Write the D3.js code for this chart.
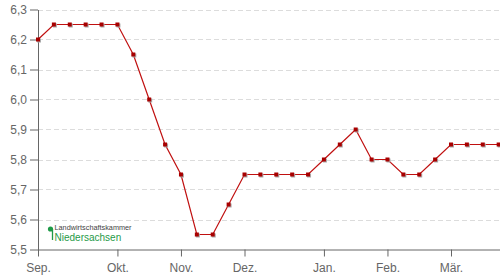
<!DOCTYPE html>
<html>
<head>
<meta charset="utf-8">
<script src="https://cdn.jsdelivr.net/npm/d3@7"></script>
<style>
  html, body { margin: 0; padding: 0; background: #fff; overflow: hidden; }
  svg { display: block; font-family: "Liberation Sans", Arial, sans-serif; }
</style>
</head>
<body>
<script>
// weekly prices, Sep. to Mär.
var prices = [6.2, 6.25, 6.25, 6.25, 6.25, 6.25, 6.15, 6.0, 5.85, 5.75,
              5.55, 5.55, 5.65, 5.75, 5.75, 5.75, 5.75, 5.75, 5.8, 5.85,
              5.9, 5.8, 5.8, 5.75, 5.75, 5.8, 5.85, 5.85, 5.85, 5.85];
// week index where each month starts
var monthWeeks = [0, 5, 9, 13, 18, 22, 26];
var monthLabels = ["Sep.", "Okt.", "Nov.", "Dez.", "Jan.", "Feb.", "Mär."];
var yTicks = [5.5, 5.6, 5.7, 5.8, 5.9, 6.0, 6.1, 6.2, 6.3];

var w = 500;
var h = 280;
var margin = {top: 9.5, right: 0, bottom: 30.5, left: 38};

var svg = d3.select("body").append("svg")
  .attr("width", w)
  .attr("height", h);

var x = d3.scaleLinear()
  .domain([0, 26])
  .range([margin.left, 451]);

var y = d3.scaleLinear()
  .domain([5.5, 6.3])
  .range([h - margin.bottom, margin.top]);

var fmt = function(d) { return d3.format(".1f")(d).replace(".", ","); };

// dashed grid
svg.append("g")
  .selectAll("line")
  .data(yTicks.slice(1))
  .enter().append("line")
  .attr("x1", margin.left)
  .attr("x2", w)
  .attr("y1", function(d) { return Math.round(y(d)) + 0.5; })
  .attr("y2", function(d) { return Math.round(y(d)) + 0.5; })
  .attr("stroke", "#dcdcdc")
  .attr("stroke-dasharray", "5,3");

// y axis
var yAxis = svg.append("g")
  .attr("transform", "translate(" + margin.left + ",0)")
  .call(d3.axisLeft(y).tickValues(yTicks).tickFormat(fmt).tickSize(8).tickSizeOuter(0));

// x axis
var xAxis = svg.append("g")
  .attr("transform", "translate(0," + (h - margin.bottom) + ")")
  .call(d3.axisBottom(x).tickValues(monthWeeks)
    .tickFormat(function(d, i) { return monthLabels[i]; })
    .tickSize(7).tickSizeOuter(0));

xAxis.select(".domain").attr("d", "M" + margin.left + ",0.5H" + w);

[xAxis, yAxis].forEach(function(a) {
  a.selectAll(".domain, line").attr("stroke", "#666");
  a.selectAll("text").attr("fill", "#666").style("font-size", "12px");
});
yAxis.selectAll("text").attr("x", -11);
xAxis.selectAll("text").attr("dy", "1.05em");

// logo
var logo = svg.append("g");
logo.append("circle").attr("cx", 50.5).attr("cy", 229).attr("r", 2.6).attr("fill", "#1f9a48");
logo.append("line").attr("x1", 52.5).attr("x2", 52.5).attr("y1", 229).attr("y2", 240)
  .attr("stroke", "#1f9a48").attr("stroke-width", 1.3);
logo.append("text").attr("x", 54.5).attr("y", 229.5).text("Landwirtschaftskammer")
  .style("font-size", "7.3px").attr("fill", "#444");
logo.append("text").attr("x", 54.5).attr("y", 240.5).text("Niedersachsen")
  .style("font-size", "10px").attr("fill", "#1f9a48");

// line
var line = d3.line()
  .x(function(d, i) { return x(i); })
  .y(function(d) { return y(d); });

svg.append("path")
  .datum(prices)
  .attr("d", line)
  .attr("fill", "none")
  .attr("stroke", "#c01010")
  .attr("stroke-width", 1.2);

// markers with small shadow
svg.append("g")
  .selectAll("rect")
  .data(prices)
  .enter().append("rect")
  .attr("x", function(d, i) { return x(i) - 1; })
  .attr("y", function(d) { return y(d) - 1; })
  .attr("width", 4)
  .attr("height", 4)
  .attr("fill", "#aaa");

svg.append("g")
  .selectAll("rect")
  .data(prices)
  .enter().append("rect")
  .attr("x", function(d, i) { return x(i) - 2; })
  .attr("y", function(d) { return y(d) - 2; })
  .attr("width", 4)
  .attr("height", 4)
  .attr("fill", "#a80000");
</script>
</body>
</html>
